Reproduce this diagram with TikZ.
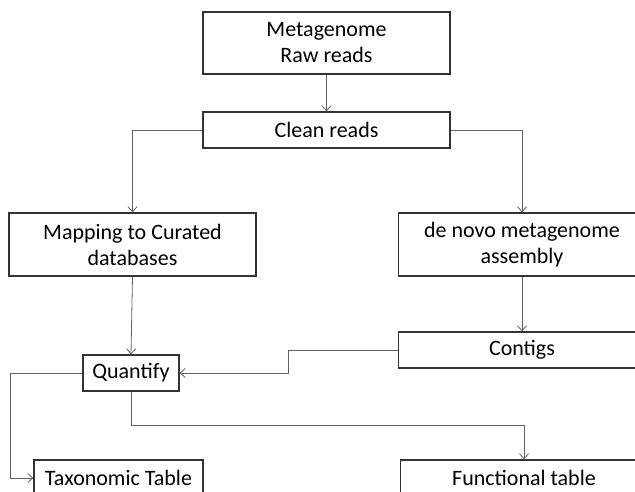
\documentclass[tikz,border=0pt]{standalone}
\usepackage{fontspec}
\setmainfont{Carlito}
\usetikzlibrary{arrows.meta}
\begin{document}
\begin{tikzpicture}[x=1pt,y=-1pt,
  box/.style={draw=black!80,line width=1.3pt,fill=white,align=center,
    inner sep=0pt,font=\fontsize{22}{26}\selectfont},
  flow/.style={draw=black!62,line width=0.8pt,
    -{Straight Barb[length=5pt,width=9pt,line width=0.8pt]}},
  link/.style={draw=black!62,line width=0.8pt}]
\clip (0,0) rectangle (635,491);
\fill[white] (0,0) rectangle (635,491);

% processing steps
\node[box,minimum width=247pt,minimum height=62pt] (raw) at (326.5,43) {Metagenome\\Raw reads};
\node[box,minimum width=247pt,minimum height=36pt] (clean) at (326.5,130) {Clean reads};
\node[box,minimum width=247pt,minimum height=63pt] (map) at (132.5,244.5) {Mapping to Curated\\databases};
\node[box,minimum width=247pt,minimum height=63pt] (denovo) at (522,244.5) {de novo metagenome\\assembly};
\node[box,minimum width=247pt,minimum height=36pt] (contigs) at (522,350) {Contigs};
\node[box,minimum width=96pt,minimum height=36pt] (quant) at (131,373) {Quantify};
\node[box,minimum width=169pt,minimum height=36pt] (taxo) at (118.5,478) {Taxonomic Table};
\node[box,minimum width=247pt,minimum height=36pt] (func) at (524,478) {Functional table};

% bend points of the routed connectors
\coordinate (cbend) at (288,350);
\coordinate (tbend) at (10,373);
\coordinate (fbend) at (131,425);

% connectors
\draw[flow] (raw) -- (clean);
\draw[flow] (clean.west) -| (map.north);
\draw[flow] (clean.east) -| (denovo.north);
\draw[flow] (map.south) -- (quant.north);
\draw[flow] (denovo) -- (contigs);
\draw[flow] (contigs.west) -- (cbend) |- (quant.east);
\draw[flow] (quant.west) -- (tbend) |- (taxo.west);
\draw[flow] (quant.south) -- (fbend) -| (func.north);
\end{tikzpicture}
\end{document}
